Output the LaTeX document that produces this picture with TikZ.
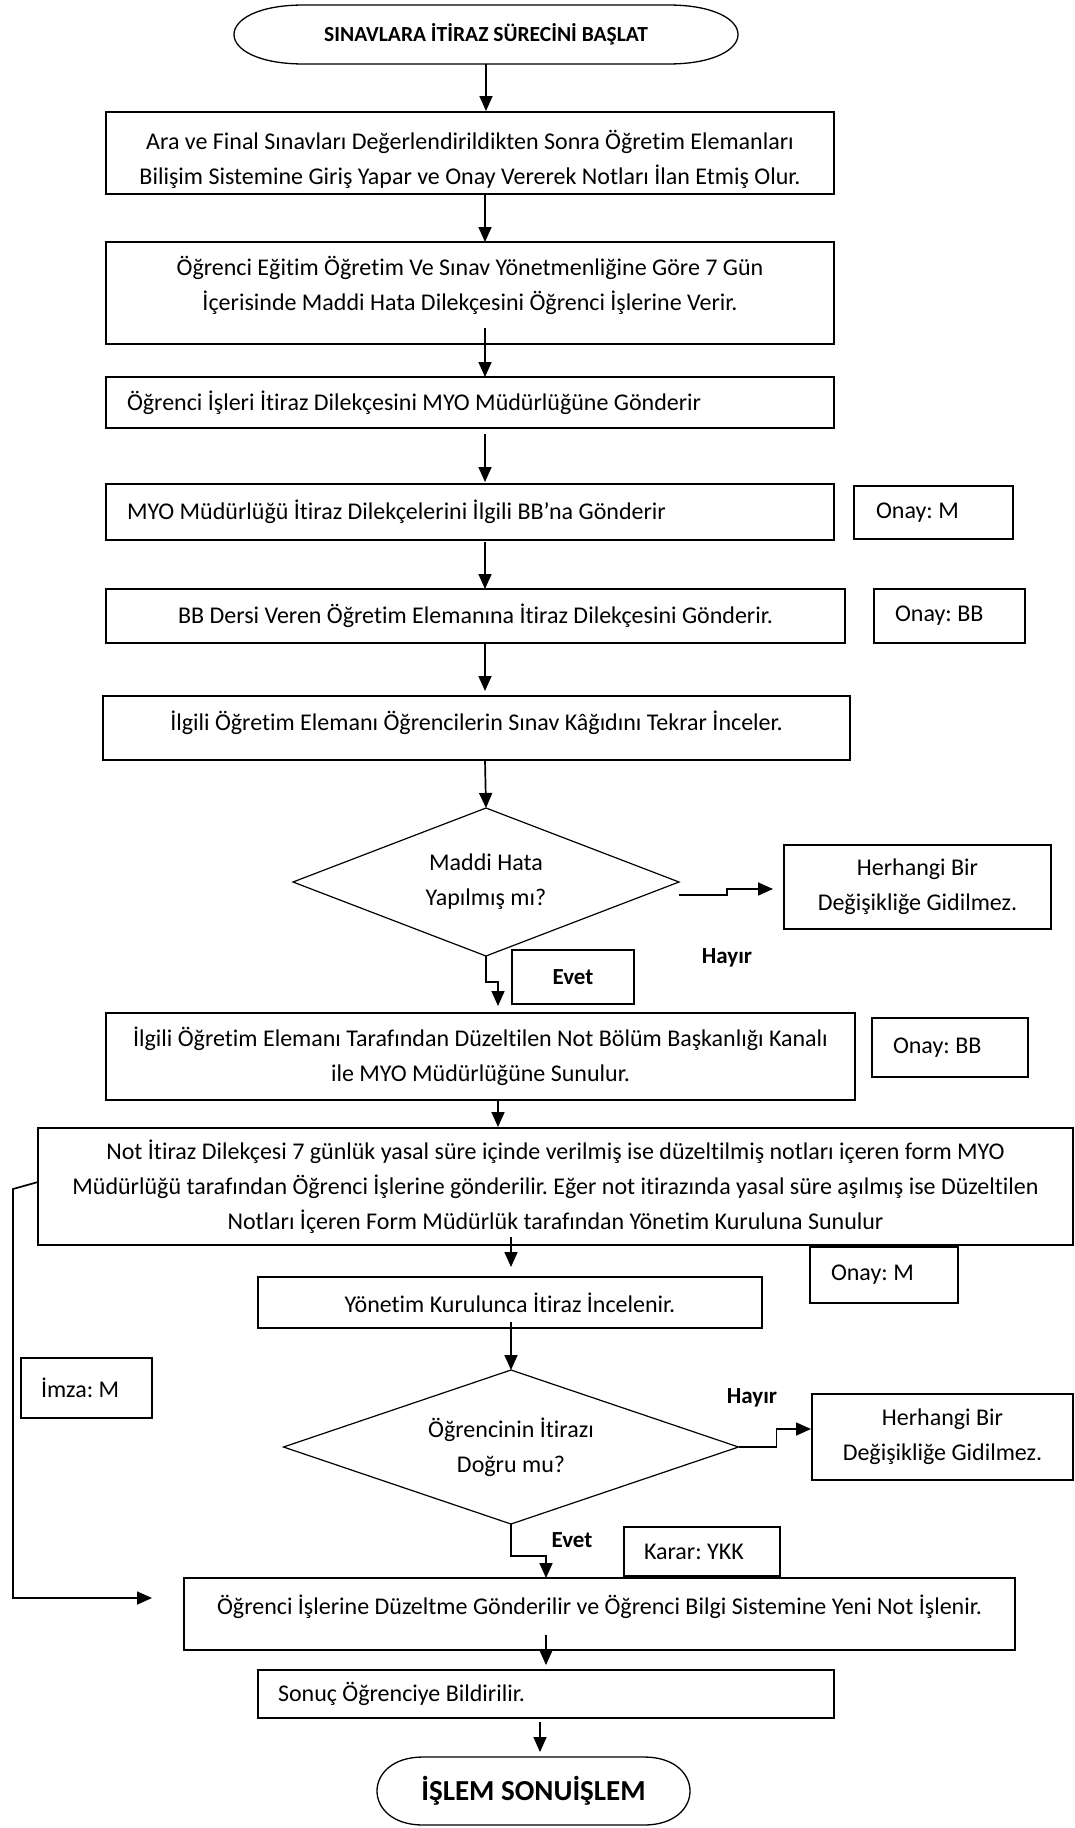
\documentclass[tikz,border=0pt]{standalone}
\usepackage{fontspec}
\setmainfont{Carlito}[Ligatures=NoCommon]
\usetikzlibrary{shapes.geometric,arrows.meta,calc}

% stadium outline around a terminal node: #1 node name, #2 depth of the rounded ends
\newcommand\stadium[2]{%
  \draw[line width=1.3pt]
    ($(#1.north west)+(#2,0)$) -- ($(#1.north east)+(-#2,0)$)
    .. controls ($(#1.north east)+(#2/3,0)$) and ($(#1.south east)+(#2/3,0)$) .. ($(#1.south east)+(-#2,0)$)
    -- ($(#1.south west)+(#2,0)$)
    .. controls ($(#1.south west)+(-#2/3,0)$) and ($(#1.north west)+(-#2/3,0)$) .. ($(#1.north west)+(#2,0)$)
    -- cycle;}
% multi-line text moved up or down inside its box without changing the box
\newcommand\liftby[2]{\raisebox{#1}[\height][\depth]{\begin{tabular}{@{}c@{}}#2\end{tabular}}}
% one left-aligned line filling a given width
\newcommand\flushrow[2]{\makebox[#1pt][l]{#2}}

\begin{document}
\frenchspacing
\begin{tikzpicture}[x=1pt,y=-1pt,
  every node/.style={inner sep=0pt, outer sep=0pt},
  body/.style={font=\fontsize{24}{35}\selectfont},
  box/.style 2 args={draw, line width=1.6pt, body, align=center,
    minimum width=#1pt, minimum height=#2pt},
  lbox/.style 2 args={draw, line width=1.6pt, body,
    inner xsep=#1pt, minimum height=#2pt},
  decision/.style 2 args={diamond, draw, line width=1.2pt, body, align=center,
    aspect=2.7, minimum width=#1pt, minimum height=#2pt},
  terminal/.style 2 args={minimum width=#1pt, minimum height=#2pt},
  tag/.style={font=\bfseries\fontsize{23}{27}\selectfont},
  arr/.style={-{Triangle[length=15pt,width=13pt]}, line width=1.7pt},
]
\useasboundingbox (0,0) rectangle (1075,1828);

% ---------------- nodes ----------------
\node[terminal={504}{59}, font=\bfseries\fontsize{21.5}{25}\selectfont] (start) at (486,34.5)
  {SINAVLARA İTİRAZ SÜRECİNİ BAŞLAT};
\stadium{start}{70}

\node[box={728}{82}] (b1) at (470,153)
  {\liftby{-7pt}{Ara ve Final Sınavları Değerlendirildikten Sonra Öğretim Elemanları\\
   Bilişim Sistemine Giriş Yapar ve Onay Vererek Notları İlan Etmiş Olur.}};

\node[box={728}{102}] (b2) at (470,293)
  {\liftby{7.5pt}{Öğrenci Eğitim Öğretim Ve Sınav Yönetmenliğine Göre 7 Gün\\
   İçerisinde Maddi Hata Dilekçesini Öğrenci İşlerine Verir.}};

\node[lbox={21}{51}] (b3) at (470,402.5)
  {\flushrow{686}{Öğrenci İşleri İtiraz Dilekçesini MYO Müdürlüğüne Gönderir}};

\node[lbox={21}{56}] (b4) at (470,512)
  {\flushrow{686}{MYO Müdürlüğü İtiraz Dilekçelerini İlgili BB’na Gönderir}};
\node[lbox={22}{53}] (on1) at (933.5,512.5) {\flushrow{115}{Onay: M}};

\node[box={739}{54}] (b5) at (475.5,616)
  {BB Dersi Veren Öğretim Elemanına İtiraz Dilekçesini Gönderir.};
\node[lbox={21}{54}] (on2) at (949.5,616) {\flushrow{109}{Onay: BB}};

\node[box={747}{64}] (b6) at (476.5,728)
  {\liftby{5pt}{İlgili Öğretim Elemanı Öğrencilerin Sınav Kâğıdını Tekrar İnceler.}};

\node[decision={386}{148}] (d1) at (486,882) {Maddi Hata\\Yapılmış mı?};
\node[box={267}{84}] (h1) at (917.5,887) {Herhangi Bir\\Değişikliğe Gidilmez.};
\node[tag] (no1) at (727,958) {Hayır};
\node[box={122}{54}, tag] (yes1) at (573,977) {Evet};

\node[box={749}{87}] (b7) at (480.5,1056.5)
  {İlgili Öğretim Elemanı Tarafından Düzeltilen Not Bölüm Başkanlığı Kanalı\\
   ile MYO Müdürlüğüne Sunulur.};
\node[lbox={21}{59}] (on3) at (950,1047.5) {\flushrow{114}{Onay: BB}};

\node[box={1035}{117}] (big) at (555.5,1186.5)
  {Not İtiraz Dilekçesi 7 günlük yasal süre içinde verilmiş ise düzeltilmiş notları içeren form MYO\\
   Müdürlüğü tarafından Öğrenci İşlerine gönderilir. Eğer not itirazında yasal süre aşılmış ise Düzeltilen\\
   Notları İçeren Form Müdürlük tarafından Yönetim Kuruluna Sunulur};
\node[lbox={21}{56}] (on4) at (884,1275) {\flushrow{106}{Onay: M}};

\node[box={504}{51}] (b8) at (510,1302.5) {Yönetim Kurulunca İtiraz İncelenir.};
\node[lbox={20}{60}] (sig) at (86.5,1388) {\flushrow{91}{İmza: M}};

\node[decision={455}{154}] (d2) at (511,1447) {Öğrencinin İtirazı\\Doğru mu?};
\node[tag] (no2) at (752,1398) {Hayır};
\node[box={261}{86}] (h2) at (942.5,1437) {Herhangi Bir\\Değişikliğe Gidilmez.};
\node[tag] (yes2) at (572,1540) {Evet};
\node[lbox={20}{49}] (ykk) at (702,1551.5) {\flushrow{116}{Karar: YKK}};

\node[box={831}{72}] (b9) at (599.5,1614)
  {\liftby{7pt}{Öğrenci İşlerine Düzeltme Gönderilir ve Öğrenci Bilgi Sistemine Yeni Not İşlenir.}};
\node[lbox={20}{48}] (b10) at (546,1694) {\flushrow{536}{Sonuç Öğrenciye Bildirilir.}};

\node[terminal={313}{68}, font=\bfseries\fontsize{29}{34}\selectfont] (end) at (533.5,1791)
  {İŞLEM SONUİŞLEM};
\stadium{end}{46}

% vertical guide lines for the main flow
\coordinate (sA) at (485,0);
\coordinate (sB) at (498,0);
\coordinate (sC) at (511,0);
\coordinate (sD) at (546,0);
\coordinate (sE) at (540,0);

% ---------------- connectors ----------------
\draw[arr] (start.south) -- ($(start.south |- b1.north)+(0,-1)$);
\draw[arr] (sA |- b1.south) -- (sA |- b2.north);
\draw[arr] ($(sA |- b2.south)+(0,-16)$) -- (sA |- b3.north);
\draw[arr] ($(sA |- b3.south)+(0,6)$) -- ($(sA |- b4.north)+(0,-2)$);
\draw[arr] ($(sA |- b4.south)+(0,2)$) -- (sA |- b5.north);
\draw[arr] (sA |- b5.south) -- ($(sA |- b6.north)+(0,-5)$);
\draw[arr] (sA |- b6.south) -- (d1.north);

\draw[arr] ($(d1.east)+(0,13)$) -- ++(48,0) |- ($(h1.west)+(-11,2)$);
\draw[arr] (d1.south) -- ++(0,26) -| ($(sB |- b7.north)+(0,-7)$);

\draw[arr] (sB |- b7.south) -- ($(sB |- big.north)+(0,-1)$);
\draw[arr] ($(sC |- big.south)+(0,-8)$) -- ($(sC |- b8.north)+(0,-10)$);
\draw[arr] ($(sC |- b8.south)+(0,-6)$) -- (d2.north);

\draw[arr] (d2.east) -- ++(38,0) |- ($(h2.west)+(-1,-8)$);
\draw[arr] (d2.south) -- ++(0,32) -| (sD |- b9.north);

\draw[arr] ($(big.west)+(0,-4.5)$) -- ++(-25,7) |- ($(b9.west)+(-32,-16)$);

\draw[arr] ($(sD |- b9.south)+(0,-15)$) -- ($(sD |- b10.north)+(0,-5)$);
\draw[arr] ($(sE |- b10.south)+(0,4)$) -- ($(sE |- end.north)+(0,-5)$);
\end{tikzpicture}
\end{document}
